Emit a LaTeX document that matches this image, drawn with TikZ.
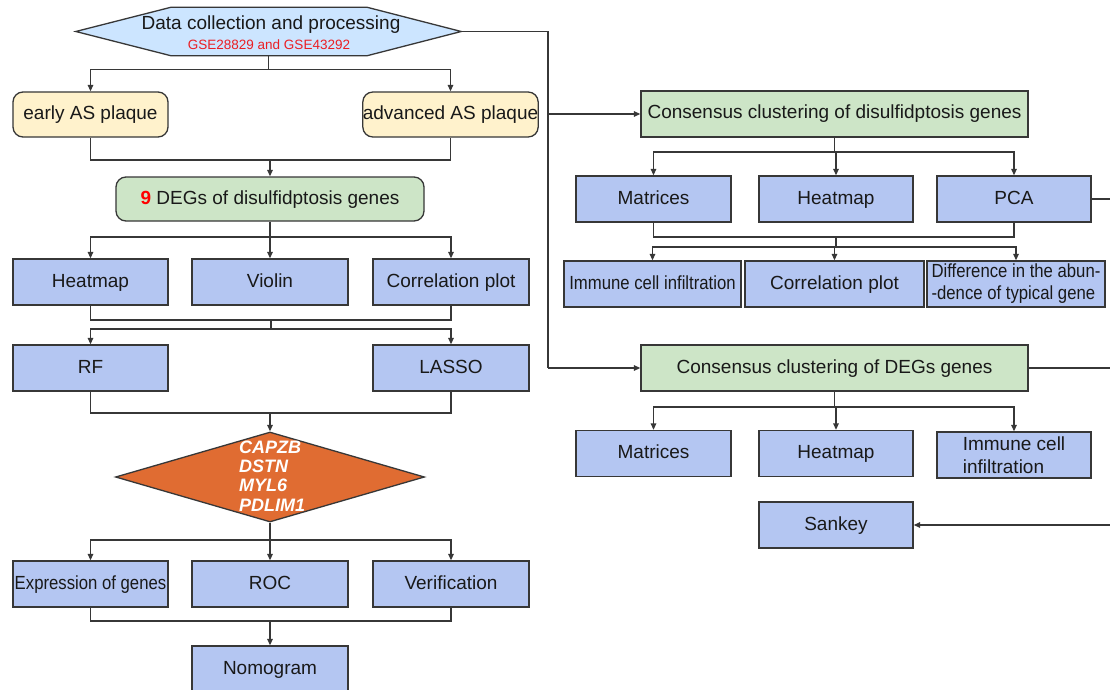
\documentclass[tikz,border=0pt]{standalone}
\usepackage{fontspec}
\setmainfont{Liberation Sans}
\usetikzlibrary{arrows.meta,shapes.geometric,calc}
\definecolor{bluebox}{RGB}{180,198,242}
\definecolor{greenbox}{RGB}{205,229,199}
\definecolor{yellowbox}{RGB}{255,242,204}
\definecolor{hexblue}{RGB}{204,229,255}
\definecolor{orangebox}{RGB}{224,108,50}
\definecolor{linecol}{RGB}{55,55,55}
\definecolor{txt}{RGB}{25,25,25}
\definecolor{redtxt}{RGB}{235,30,35}
\newcommand{\cond}[1]{\scalebox{0.88}[1]{#1}}
\begin{document}
\begin{tikzpicture}[x=1pt,y=-1pt,
  every node/.style={font=\fontsize{19}{23}\selectfont, text=txt},
  ln/.style={draw=linecol, line width=1.3pt},
  arr/.style={ln, -{Triangle[length=6.5pt,width=5.5pt]}},
  shapebox/.style={draw=linecol, line width=1.3pt, inner sep=0pt, minimum height=46pt,
                   text height=14pt, text depth=4pt},
  ml/.style={text height=, text depth=},
  bbox/.style={shapebox, fill=bluebox, minimum width=#1},
  gbox/.style={shapebox, fill=greenbox, minimum width=#1},
  ybox/.style={shapebox, fill=yellowbox, rounded corners=10pt, minimum height=45pt, minimum width=#1},
]
\useasboundingbox (0,0) rectangle (1110,690);
\clip (0,0) rectangle (1110,690);
\fill[white] (0,0) rectangle (1110,690);

% ---------- hexagon ----------
\node[inner sep=0pt, minimum width=385pt, minimum height=48pt] (hex) at (268.5,31.5) {};
\draw[ln, fill=hexblue] (hex.west) -- ($(hex.north west)+(95,0)$) -- ($(hex.north east)+(-94,0)$)
   -- (hex.east) -- ($(hex.south east)+(-94,0)$) -- ($(hex.south west)+(95,0)$) -- cycle;
\node (hexT) at (271,25) {Data collection and processing};
\node[font=\fontsize{13.5}{16}\selectfont, text=redtxt] (hexS) at (269,45) {GSE28829 and GSE43292};

% ---------- left column ----------
\node[ybox=155pt] (early) at (90.5,114.5) {early AS plaque};
\node[ybox=173pt] (adv) at (450.5,114.5) {advanced AS plaque};
\node[gbox=308pt, rounded corners=10pt, minimum height=44pt] (g9) at (270,199)
  {\textcolor{red}{\textbf{9}} DEGs of disulfidptosis genes};

\node[bbox=155pt] (hm1) at (90.5,282) {Heatmap};
\node[bbox=156pt] (vio) at (270,282) {Violin};
\node[bbox=156pt] (cor1) at (451,282) {Correlation plot};

\node[bbox=155pt] (rf) at (90.5,368) {RF};
\node[bbox=156pt] (lasso) at (451,368) {LASSO};

\node[diamond, draw=linecol, line width=1.3pt, fill=orangebox, inner sep=0pt,
      minimum width=309pt, minimum height=90pt] (dia) at (270,477) {};
\node[anchor=west, align=left, inner sep=0pt, text=white,
      font=\fontsize{18}{19.3}\selectfont\bfseries\itshape] (genes) at (239,476)
  {CAPZB\\DSTN\\MYL6\\PDLIM1};

\node[bbox=155pt] (expr) at (90.5,584) {\cond{Expression of genes}};
\node[bbox=156pt] (roc) at (270,584) {ROC};
\node[bbox=156pt] (ver) at (451,584) {Verification};
\node[bbox=156pt] (nomo) at (270,669) {Nomogram};

% left connectors
\draw[arr] (hex.south) -- ++(0,14) -| (early.north);
\draw[arr] (hex.south) -- ++(0,14) -| (adv.north);
\coordinate (m1) at (270,160);
\draw[ln] (early.south) |- (m1) -| (adv.south);
\draw[arr] (m1) -- (g9.north);

\coordinate (b1) at (270,237);
\draw[ln] (g9.south) -- (b1);
\draw[arr] (b1) -| (hm1.north);
\draw[arr] (b1) -- (vio.north);
\draw[arr] (b1) -| (cor1.north);

\coordinate (m2) at (271,320);
\coordinate (b2) at (271,329);
\draw[ln] (hm1.south) |- (m2) -| (cor1.south);
\draw[ln] (m2) -- (b2);
\draw[arr] (b2) -| (rf.north);
\draw[arr] (b2) -| (lasso.north);

\coordinate (m3) at (270,413);
\draw[ln] (rf.south) |- (m3) -| (lasso.south);
\draw[arr] (m3) -- (dia.north);

\coordinate (b4) at (270,540);
\draw[ln] (dia.south) -- (b4);
\draw[arr] (b4) -| (expr.north);
\draw[arr] (b4) -- (roc.north);
\draw[arr] (b4) -| (ver.north);

\coordinate (m5) at (270,621);
\draw[ln] (expr.south) |- (m5) -| (ver.south);
\draw[arr] (m5) -- (nomo.north);

% ---------- right column ----------
\node[gbox=387pt] (ccd) at (834.5,114) {Consensus clustering of disulfidptosis genes};

\node[bbox=155pt] (mat1) at (653.5,199) {Matrices};
\node[bbox=154pt] (hm2) at (836,199) {Heatmap};
\node[bbox=154pt] (pca) at (1014,199) {PCA};

\node[bbox=177pt] (imm1) at (652.5,284) {\cond{Immune cell infiltration}};
\node[bbox=179pt] (cor2) at (834.5,284) {Correlation plot};
\node[bbox=178pt, ml, align=left, font=\fontsize{19}{22}\selectfont] (diff) at (1016,284)
  {\cond{Difference in the abun-}\\\cond{-dence of typical gene}};

\node[gbox=387pt] (ccdeg) at (834.5,368) {Consensus clustering of DEGs genes};

\node[bbox=155pt] (mat2) at (653.5,453.5) {Matrices};
\node[bbox=154pt] (hm3) at (836,453.5) {Heatmap};
\node[bbox=154pt, ml, align=left] (imm2) at (1014,455) {Immune cell\\infiltration};

\node[bbox=154pt] (sankey) at (836,525) {Sankey};

% right connectors
\coordinate (vtop) at (548,31.5);
\coordinate (vbot) at (548,368);
\draw[ln] (hex.east) -- (vtop) -- (vbot);
\draw[arr] (vtop |- ccd.west) -- (ccd.west);
\draw[arr] (vbot) -- (ccdeg.west);

\coordinate (rb1) at (834.5,152);
\draw[ln] (ccd.south) -- (rb1);
\draw[arr] (rb1) -| (mat1.north);
\draw[arr] (rb1) -| (hm2.north);
\draw[arr] (rb1) -| (pca.north);

\coordinate (rm1) at (836,237);
\coordinate (rb2) at (836,247);
\draw[ln] (mat1.south) |- (rm1) -| (pca.south);
\draw[ln] (rm1) -- (rb2);
\draw[arr] (rb2) -| (imm1.north);
\draw[arr] (rb2) -| (cor2.north);
\draw[arr] (rb2) -| (diff.north);

\coordinate (pcaOut) at (1115,199);
\draw[ln] (pca.east) -- (pcaOut);

\coordinate (degOut) at (1115,368);
\draw[ln] (ccdeg.east) -- (degOut);

\coordinate (rb3) at (834.5,407);
\draw[ln] (ccdeg.south) -- (rb3);
\draw[arr] (rb3) -| (mat2.north);
\draw[arr] (rb3) -| (hm3.north);
\draw[arr] (rb3) -| (imm2.north);

\coordinate (sanIn) at (1115,525);
\draw[arr] (sanIn) -- (sankey.east);
\end{tikzpicture}
\end{document}
